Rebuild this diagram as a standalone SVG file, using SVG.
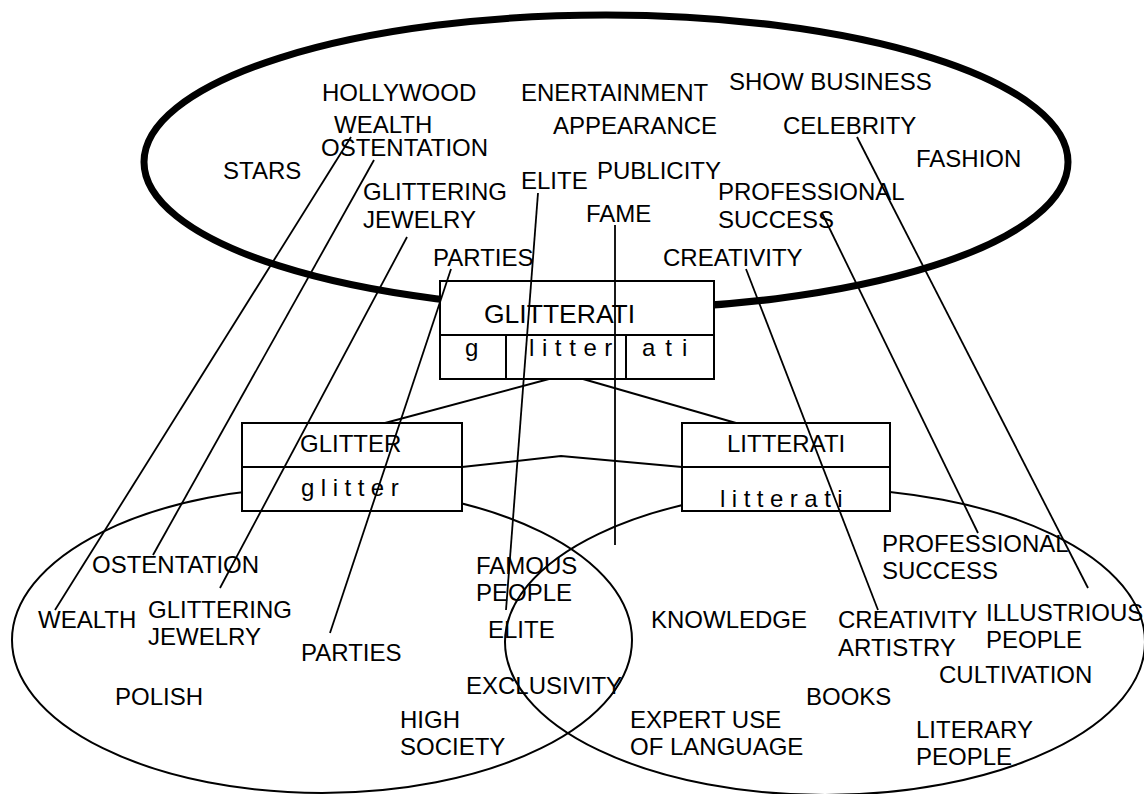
<svg xmlns="http://www.w3.org/2000/svg" width="1144" height="794" viewBox="0 0 1144 794">
<style>
text{font-family:"Liberation Sans",Arial,sans-serif;font-size:24px;fill:#000}
.big{font-size:26.5px}
.sp{letter-spacing:6.5px}
.cloud{fill:none;stroke:#000;stroke-width:7}
.venn{fill:none;stroke:#000;stroke-width:2}
.box{fill:#fff;stroke:#000;stroke-width:2}
.ln{stroke:#000;stroke-width:1.8;fill:none}
.cn{stroke:#000;stroke-width:2;fill:none}
</style>
<rect width="1144" height="794" fill="#fff"/>
<g id="glitterati-cloud">
<ellipse class="cloud" cx="606" cy="162" rx="462" ry="147"/>
<text x="322" y="101">HOLLYWOOD</text>
<text x="521" y="101">ENERTAINMENT</text>
<text x="729" y="90">SHOW BUSINESS</text>
<text x="334" y="133">WEALTH</text>
<text x="321" y="156">OSTENTATION</text>
<text x="553" y="134">APPEARANCE</text>
<text x="783" y="134">CELEBRITY</text>
<text x="223" y="179">STARS</text>
<text x="521" y="189">ELITE</text>
<text x="597" y="179">PUBLICITY</text>
<text x="916" y="167">FASHION</text>
<text x="363" y="200">GLITTERING</text>
<text x="363" y="228">JEWELRY</text>
<text x="718" y="200">PROFESSIONAL</text>
<text x="718" y="228">SUCCESS</text>
<text x="586" y="222">FAME</text>
<text x="433" y="266">PARTIES</text>
<text x="663" y="266">CREATIVITY</text>
</g>
<g id="glitter-set">
<ellipse class="venn" cx="322" cy="640" rx="310" ry="153"/>
<text x="92" y="573">OSTENTATION</text>
<text x="38" y="628">WEALTH</text>
<text x="148" y="618">GLITTERING</text>
<text x="148" y="645">JEWELRY</text>
<text x="301" y="661">PARTIES</text>
<text x="115" y="705">POLISH</text>
<text x="400" y="728">HIGH</text>
<text x="400" y="755">SOCIETY</text>
<text x="476" y="574">FAMOUS</text>
<text x="476" y="601">PEOPLE</text>
<text x="488" y="638">ELITE</text>
<text x="466" y="694">EXCLUSIVITY</text>
</g>
<g id="litterati-set">
<ellipse class="venn" cx="825" cy="642" rx="320" ry="153"/>
<text x="882" y="552">PROFESSIONAL</text>
<text x="882" y="579">SUCCESS</text>
<text x="651" y="628">KNOWLEDGE</text>
<text x="838" y="628">CREATIVITY</text>
<text x="838" y="656">ARTISTRY</text>
<text x="986" y="621">ILLUSTRIOUS</text>
<text x="986" y="648">PEOPLE</text>
<text x="939" y="683">CULTIVATION</text>
<text x="806" y="705">BOOKS</text>
<text x="630" y="728">EXPERT USE</text>
<text x="630" y="755">OF LANGUAGE</text>
<text x="916" y="738">LITERARY</text>
<text x="916" y="765">PEOPLE</text>
</g>
<g id="glitterati-box">
<rect class="box" x="440" y="281" width="274" height="98"/>
<line class="cn" x1="440" y1="335" x2="714" y2="335"/>
<line class="cn" x1="506" y1="335" x2="506" y2="379"/>
<line class="cn" x1="626" y1="335" x2="626" y2="379"/>
<text class="big" x="484" y="323">GLITTERATI</text>
<text x="465" y="356">g</text>
<text x="529" y="356" style="letter-spacing:7.6px">litter</text>
<text x="642" y="356" style="letter-spacing:10px">ati</text>
</g>
<g id="glitter-box">
<rect class="box" x="242" y="423" width="220" height="88"/>
<line class="cn" x1="242" y1="467" x2="462" y2="467"/>
<text x="300" y="452">GLITTER</text>
<text class="sp" x="301" y="496">glitter</text>
</g>
<g id="litterati-box">
<rect class="box" x="682" y="423" width="208" height="88"/>
<line class="cn" x1="682" y1="467" x2="890" y2="467"/>
<text x="727" y="452">LITTERATI</text>
<text class="sp" x="720" y="507">litterati</text>
</g>
<g id="connectors">
<line class="cn" x1="549" y1="379" x2="385" y2="423"/>
<line class="cn" x1="583" y1="379" x2="736" y2="423"/>
<polyline class="cn" points="462,467 561,456 682,467"/>
<line class="ln" x1="351" y1="137" x2="55" y2="610"/>
<line class="ln" x1="374" y1="160" x2="153" y2="555"/>
<line class="ln" x1="407" y1="237" x2="220" y2="588"/>
<line class="ln" x1="451" y1="269" x2="330" y2="633"/>
<line class="ln" x1="538" y1="193" x2="506" y2="610"/>
<line class="ln" x1="615" y1="225" x2="615" y2="545"/>
<line class="ln" x1="746" y1="269" x2="878" y2="610"/>
<line class="ln" x1="822" y1="213" x2="978" y2="533"/>
<line class="ln" x1="857" y1="137" x2="1088" y2="588"/>
</g>
</svg>
